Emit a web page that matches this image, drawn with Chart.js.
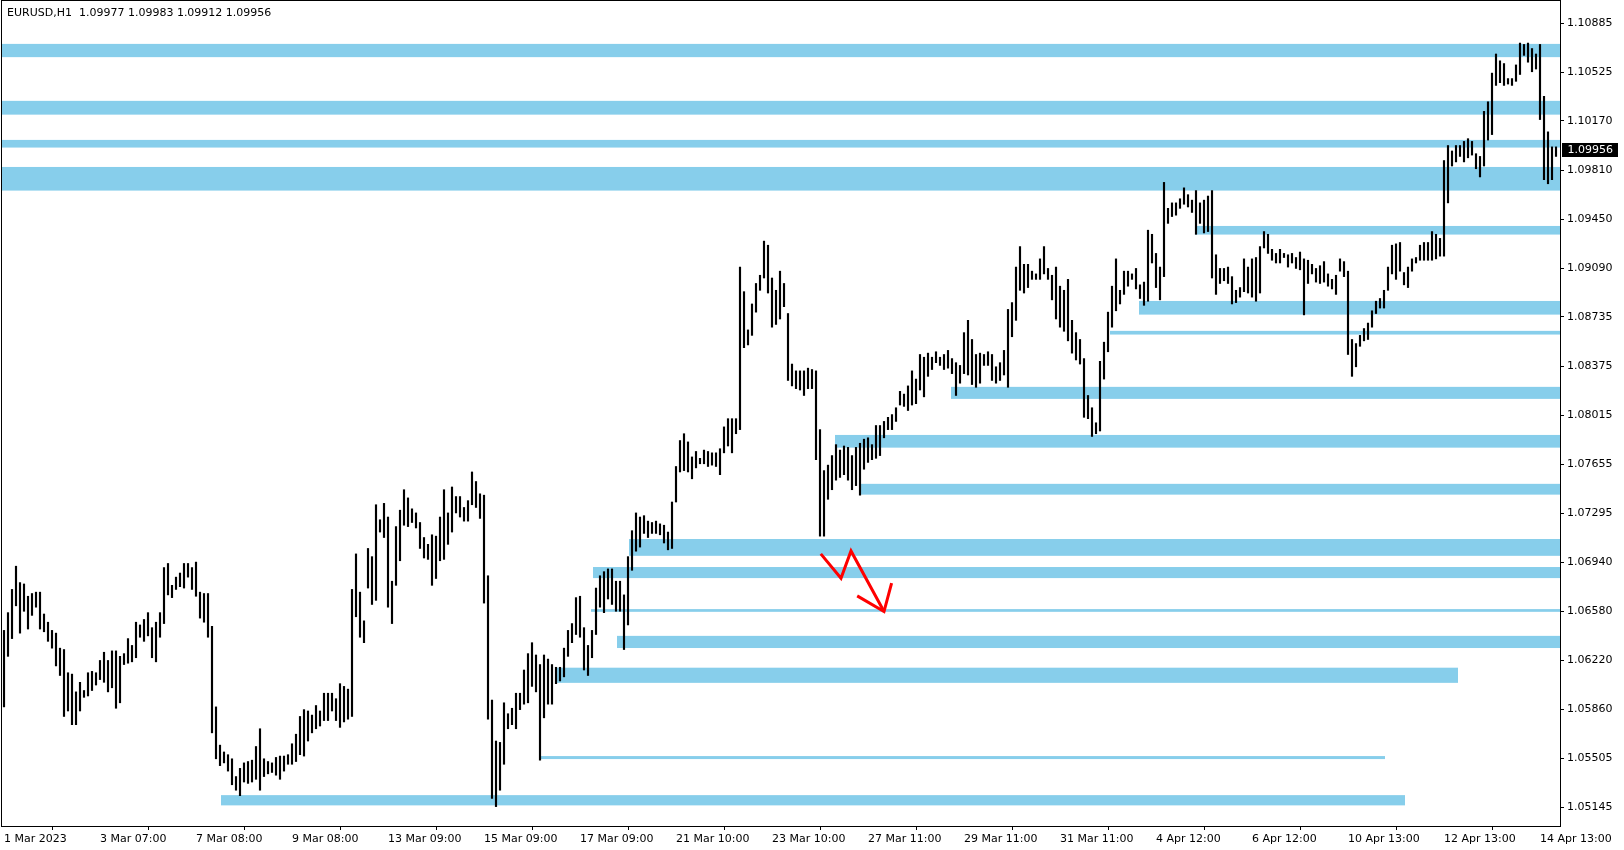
<!DOCTYPE html>
<html>
<head>
<meta charset="utf-8">
<title>EURUSD,H1</title>
<script src="https://cdn.jsdelivr.net/npm/chart.js@4.4.0/dist/chart.umd.min.js"></script>
<style>
  html, body { margin: 0; padding: 0; background: #fff; }
  canvas { display: block; }
</style>
</head>
<body>
<canvas id="chart" width="1624" height="850"></canvas>
<script>
// --- data ---
const symbol = 'EURUSD,H1';
const lastOpen = 1.09977, lastHigh = 1.09983, lastLow = 1.09912, lastClose = 1.09956;

// bar highs / lows, one entry per bar
const barHigh = [
  1.0644, 1.0657, 1.0674, 1.0691, 1.0679, 1.0678, 1.0669, 1.0671, 1.0672, 1.0672,
  1.0656, 1.0650, 1.0644, 1.0642, 1.0631, 1.0630, 1.0613, 1.0612, 1.0599, 1.0606,
  1.0600, 1.0613, 1.0614, 1.0613, 1.0622, 1.0628, 1.0622, 1.0629, 1.0629, 1.0625,
  1.0627, 1.0638, 1.0633, 1.0650, 1.0648, 1.0652, 1.0657, 1.0646, 1.0650, 1.0657,
  1.0690, 1.0693, 1.0677, 1.0683, 1.0686, 1.0693, 1.0693, 1.0690, 1.0694, 1.0672,
  1.0671, 1.0671, 1.0647, 1.0588, 1.0560, 1.0555, 1.0553, 1.0550, 1.0537, 1.0543,
  1.0547, 1.0548, 1.0549, 1.0559, 1.0572, 1.0550, 1.0548, 1.0547, 1.0551, 1.0552,
  1.0552, 1.0553, 1.0561, 1.0568, 1.0581, 1.0586, 1.0585, 1.0582, 1.0589, 1.0585,
  1.0598, 1.0598, 1.0598, 1.0594, 1.0605, 1.0603, 1.0601, 1.0674, 1.0700, 1.0672,
  1.0651, 1.0704, 1.0698, 1.0736, 1.0725, 1.0737, 1.0727, 1.0680, 1.0720, 1.0732,
  1.0747, 1.0741, 1.0733, 1.0730, 1.0723, 1.0712, 1.0707, 1.0714, 1.0713, 1.0727,
  1.0747, 1.0730, 1.0749, 1.0742, 1.0742, 1.0734, 1.0739, 1.0760, 1.0753, 1.0744,
  1.0743, 1.0684, 1.0593, 1.0563, 1.0562, 1.0591, 1.0583, 1.0587, 1.0598, 1.0598,
  1.0615, 1.0627, 1.0635, 1.0626, 1.0619, 1.0626, 1.0623, 1.0619, 1.0617, 1.0617,
  1.0631, 1.0644, 1.0649, 1.0668, 1.0669, 1.0646, 1.0633, 1.0644, 1.0675, 1.0684,
  1.0687, 1.0689, 1.0689, 1.0680, 1.0680, 1.0670, 1.0698, 1.0717, 1.0730, 1.0727,
  1.0728, 1.0724, 1.0723, 1.0724, 1.0722, 1.0721, 1.0716, 1.0738, 1.0764, 1.0783,
  1.0788, 1.0782, 1.0771, 1.0775, 1.0770, 1.0776, 1.0775, 1.0774, 1.0774, 1.0777,
  1.0793, 1.0799, 1.0799, 1.0799, 1.0910, 1.0892, 1.0864, 1.0883, 1.0898, 1.0904,
  1.0929, 1.0926, 1.0902, 1.0893, 1.0907, 1.0898, 1.0876, 1.0839, 1.0834, 1.0834,
  1.0834, 1.0836, 1.0835, 1.0834, 1.0791, 1.0761, 1.0765, 1.0772, 1.0780, 1.0776,
  1.0779, 1.0778, 1.0772, 1.0778, 1.0781, 1.0784, 1.0785, 1.0780, 1.0794, 1.0794,
  1.0797, 1.0800, 1.0802, 1.0807, 1.0819, 1.0817, 1.0823, 1.0834, 1.0828, 1.0846,
  1.0844, 1.0847, 1.0844, 1.0848, 1.0844, 1.0846, 1.0849, 1.0843, 1.0840, 1.0838,
  1.0862, 1.0871, 1.0857, 1.0846, 1.0847, 1.0846, 1.0848, 1.0846, 1.0837, 1.0840,
  1.0849, 1.0879, 1.0884, 1.0910, 1.0925, 1.0912, 1.0912, 1.0907, 1.0905, 1.0916,
  1.0925, 1.0909, 1.0904, 1.0910, 1.0896, 1.0893, 1.0901, 1.0871, 1.0862, 1.0857,
  1.0843, 1.0816, 1.0807, 1.0796, 1.0841, 1.0855, 1.0877, 1.0896, 1.0916, 1.0893,
  1.0907, 1.0907, 1.0905, 1.0909, 1.0897, 1.0899, 1.0937, 1.0934, 1.0920, 1.0910,
  1.0972, 1.0953, 1.0957, 1.0957, 1.0960, 1.0968, 1.0963, 1.0959, 1.0966, 1.0957,
  1.0959, 1.0962, 1.0966, 1.0919, 1.0909, 1.0909, 1.0910, 1.0903, 1.0893, 1.0895,
  1.0916, 1.0910, 1.0916, 1.0917, 1.0925, 1.0936, 1.0934, 1.0923, 1.0920, 1.0923,
  1.0920, 1.0919, 1.0920, 1.0917, 1.0921, 1.0916, 1.0915, 1.0912, 1.0909, 1.0911,
  1.0914, 1.0905, 1.0901, 1.0904, 1.0916, 1.0914, 1.0907, 1.0857, 1.0854, 1.0860,
  1.0865, 1.0869, 1.0878, 1.0885, 1.0887, 1.0893, 1.0910, 1.0926, 1.0927, 1.0928,
  1.0906, 1.0910, 1.0916, 1.0917, 1.0926, 1.0928, 1.0928, 1.0936, 1.0934, 1.0931,
  1.0988, 1.0999, 1.0995, 1.0999, 1.0999, 1.1002, 1.1004, 1.1002, 1.0993, 1.0991,
  1.1024, 1.1031, 1.1052, 1.1066, 1.1061, 1.1059, 1.1048, 1.1048, 1.1058, 1.1074,
  1.1073, 1.1074, 1.1070, 1.1066, 1.1073, 1.1035, 1.1009, 1.0998, 1.0998
];
const barLow = [
  1.0588, 1.0625, 1.0638, 1.0662, 1.0642, 1.0658, 1.0645, 1.0655, 1.0661, 1.0645,
  1.0643, 1.0636, 1.0631, 1.0618, 1.0611, 1.0581, 1.0585, 1.0575, 1.0575, 1.0585,
  1.0595, 1.0596, 1.0600, 1.0604, 1.0608, 1.0606, 1.0599, 1.0602, 1.0587, 1.0591,
  1.0619, 1.0620, 1.0621, 1.0624, 1.0639, 1.0636, 1.0640, 1.0624, 1.0621, 1.0639,
  1.0649, 1.0670, 1.0668, 1.0674, 1.0676, 1.0675, 1.0683, 1.0674, 1.0669, 1.0653,
  1.0650, 1.0639, 1.0569, 1.0550, 1.0545, 1.0547, 1.0541, 1.0531, 1.0527, 1.0523,
  1.0533, 1.0532, 1.0533, 1.0535, 1.0527, 1.0537, 1.0539, 1.0540, 1.0538, 1.0535,
  1.0541, 1.0546, 1.0546, 1.0548, 1.0553, 1.0552, 1.0563, 1.0569, 1.0572, 1.0574,
  1.0578, 1.0578, 1.0585, 1.0578, 1.0573, 1.0577, 1.0579, 1.0581, 1.0654, 1.0639,
  1.0635, 1.0675, 1.0663, 1.0666, 1.0716, 1.0712, 1.0661, 1.0649, 1.0677, 1.0695,
  1.0721, 1.0720, 1.0723, 1.0719, 1.0704, 1.0697, 1.0696, 1.0677, 1.0682, 1.0695,
  1.0696, 1.0707, 1.0716, 1.0730, 1.0727, 1.0724, 1.0724, 1.0736, 1.0734, 1.0726,
  1.0664, 1.0579, 1.0521, 1.0515, 1.0527, 1.0546, 1.0572, 1.0575, 1.0572, 1.0586,
  1.0590, 1.0591, 1.0603, 1.0599, 1.0549, 1.0580, 1.0590, 1.0590, 1.0605, 1.0607,
  1.0610, 1.0625, 1.0635, 1.0641, 1.0639, 1.0615, 1.0611, 1.0624, 1.0641, 1.0661,
  1.0657, 1.0667, 1.0663, 1.0658, 1.0658, 1.0630, 1.0648, 1.0688, 1.0702, 1.0705,
  1.0715, 1.0712, 1.0715, 1.0715, 1.0714, 1.0708, 1.0703, 1.0704, 1.0738, 1.0760,
  1.0761, 1.0760, 1.0755, 1.0763, 1.0766, 1.0766, 1.0764, 1.0765, 1.0764, 1.0758,
  1.0774, 1.0779, 1.0774, 1.0788, 1.0791, 1.0851, 1.0853, 1.0860, 1.0877, 1.0893,
  1.0902, 1.0891, 1.0866, 1.0868, 1.0872, 1.0881, 1.0827, 1.0823, 1.0821, 1.0820,
  1.0816, 1.0821, 1.0821, 1.0769, 1.0713, 1.0713, 1.0740, 1.0747, 1.0754, 1.0756,
  1.0758, 1.0754, 1.0747, 1.0750, 1.0743, 1.0762, 1.0767, 1.0769, 1.0770, 1.0772,
  1.0785, 1.0791, 1.0791, 1.0797, 1.0809, 1.0808, 1.0805, 1.0809, 1.0810, 1.0820,
  1.0815, 1.0830, 1.0835, 1.0840, 1.0838, 1.0835, 1.0836, 1.0832, 1.0816, 1.0825,
  1.0832, 1.0831, 1.0824, 1.0822, 1.0825, 1.0838, 1.0838, 1.0827, 1.0825, 1.0827,
  1.0831, 1.0822, 1.0859, 1.0871, 1.0893, 1.0891, 1.0895, 1.0901, 1.0901, 1.0901,
  1.0905, 1.0901, 1.0886, 1.0872, 1.0866, 1.0863, 1.0856, 1.0847, 1.0842, 1.0839,
  1.0800, 1.0799, 1.0786, 1.0788, 1.0790, 1.0828, 1.0848, 1.0866, 1.0878, 1.0883,
  1.0890, 1.0896, 1.0901, 1.0894, 1.0887, 1.0882, 1.0885, 1.0913, 1.0895, 1.0886,
  1.0903, 1.0942, 1.0947, 1.0948, 1.0953, 1.0956, 1.0954, 1.0950, 1.0934, 1.0942,
  1.0935, 1.0936, 1.0902, 1.0890, 1.0898, 1.0900, 1.0898, 1.0883, 1.0884, 1.0888,
  1.0892, 1.0891, 1.0888, 1.0885, 1.0891, 1.0924, 1.0920, 1.0915, 1.0913, 1.0913,
  1.0917, 1.0910, 1.0913, 1.0909, 1.0908, 1.0875, 1.0898, 1.0905, 1.0899, 1.0898,
  1.0899, 1.0896, 1.0894, 1.0890, 1.0907, 1.0903, 1.0846, 1.0830, 1.0837, 1.0852,
  1.0856, 1.0857, 1.0866, 1.0876, 1.0880, 1.0880, 1.0893, 1.0905, 1.0901, 1.0907,
  1.0897, 1.0895, 1.0907, 1.0913, 1.0915, 1.0915, 1.0915, 1.0915, 1.0916, 1.0918,
  1.0918, 1.0957, 1.0984, 1.0987, 1.0991, 1.0987, 1.0990, 1.0992, 1.0982, 1.0976,
  1.0984, 1.1003, 1.1007, 1.1043, 1.1045, 1.1043, 1.1044, 1.1043, 1.1046, 1.1051,
  1.1065, 1.1060, 1.1053, 1.1055, 1.1018, 1.0974, 1.0971, 1.0974, 1.0991
];

// time axis: one label every 24 bars
const labelStep = 24;
const timeLabels = ['1 Mar 2023', '3 Mar 07:00', '7 Mar 08:00', '9 Mar 08:00', '13 Mar 09:00',
  '15 Mar 09:00', '17 Mar 09:00', '21 Mar 10:00', '23 Mar 10:00', '27 Mar 11:00', '29 Mar 11:00',
  '31 Mar 11:00', '4 Apr 12:00', '6 Apr 12:00', '10 Apr 13:00', '12 Apr 13:00', '14 Apr 13:00'];

// price axis
const priceTicks = [1.10885, 1.10525, 1.10170, 1.09810, 1.09450, 1.09090, 1.08735, 1.08375,
  1.08015, 1.07655, 1.07295, 1.06940, 1.06580, 1.06220, 1.05860, 1.05505, 1.05145];
const priceMin = 1.05008, priceMax = 1.11048;

// rectangles (zones): top / bottom price, first / last bar (null = chart edge)
const bandTop    = [1.10734, 1.10317, 1.10031, 1.09833, 1.09401, 1.08852, 1.08633, 1.08223, 1.07871,
  1.07513, 1.07109, 1.06904, 1.06596, 1.06400, 1.06167, 1.05520, 1.05234];
const bandBottom = [1.10637, 1.10216, 1.09975, 1.09660, 1.09338, 1.08752, 1.08606, 1.08135, 1.07778,
  1.07434, 1.06986, 1.06823, 1.06576, 1.06311, 1.06056, 1.05498, 1.05159];
const bandStart  = [null, null, null, null, 297.75, 283.75, 276.5, 236.75, 207.75,
  214, 156.25, 147.25, 146.75, 153.25, 137.9, 133.75, 54.25];
const bandEnd    = [null, null, null, null, null, null, null, null, null,
  null, null, null, null, null, 363.5, 345.25, 350.25];

// red arrow drawn on the chart
const arrowX = [204.2, 209.25, 211.75, 220];
const arrowY = [1.0700, 1.06822, 1.07022, 1.06578];
const headX = [213.3, 220, 221.9];
const headY = [1.06693, 1.06578, 1.06786];

const bandColor = '#87CEEB';
const fontFamily = '"DejaVu Sans", "Liberation Sans", sans-serif';

Chart.defaults.font.family = fontFamily;
Chart.defaults.font.size = 11;
Chart.defaults.color = '#000';

// zones behind the bars, frame + header + price label on top
const mtPlugin = {
  id: 'mt4',
  beforeDatasetsDraw(chart) {
    const { ctx, chartArea: a, scales: { x, y } } = chart;
    ctx.save();
    ctx.beginPath();
    ctx.rect(a.left, a.top, a.right - a.left, a.bottom - a.top);
    ctx.clip();
    ctx.fillStyle = bandColor;
    for (let k = 0; k < bandTop.length; k++) {
      const x0 = bandStart[k] === null ? a.left : x.getPixelForValue(bandStart[k]);
      const x1 = bandEnd[k] === null ? a.right : x.getPixelForValue(bandEnd[k]);
      const y0 = y.getPixelForValue(bandTop[k]);
      const y1 = y.getPixelForValue(bandBottom[k]);
      ctx.fillRect(x0, y0, x1 - x0, y1 - y0);
    }
    ctx.restore();
  },
  afterDraw(chart) {
    const { ctx, chartArea: a, scales: { y } } = chart;
    ctx.save();
    // frame
    ctx.strokeStyle = '#000';
    ctx.lineWidth = 1;
    ctx.strokeRect(a.left - 0.5, a.top - 0.5, a.right - a.left + 1, a.bottom - a.top + 1);

    // header
    ctx.font = '11px ' + fontFamily;
    ctx.fillStyle = '#000';
    ctx.textBaseline = 'middle';
    ctx.textAlign = 'left';
    const head = symbol + '  ' + [lastOpen, lastHigh, lastLow, lastClose].map(v => v.toFixed(5)).join(' ');
    ctx.fillText(head, 7, 13);

    // current price box
    const py = Math.round(y.getPixelForValue(lastClose));
    ctx.fillStyle = '#000';
    ctx.fillRect(a.right + 2, py - 7, 56, 14);
    ctx.fillStyle = '#fff';
    ctx.fillText(lastClose.toFixed(5), a.right + 7.5, py + 0.5);
    ctx.restore();
  }
};

const barData = barHigh.map((h, k) => ({ x: k, y: [barLow[k], h] }));

// no extra padding from the axes: the plot should fill the canvas like MT4
const noPad = s => { s.paddingTop = 0; s.paddingBottom = 0; s.paddingLeft = 0; s.paddingRight = 0; };

new Chart(document.getElementById('chart'), {
  type: 'bar',
  data: {
    datasets: [
      {
        type: 'line',
        data: arrowX.map((v, k) => ({ x: v, y: arrowY[k] })),
        borderColor: '#FF0000',
        borderWidth: 3,
        pointRadius: 0,
        tension: 0,
        fill: false,
        order: 0
      },
      {
        type: 'line',
        data: headX.map((v, k) => ({ x: v, y: headY[k] })),
        borderColor: '#FF0000',
        borderWidth: 3,
        pointRadius: 0,
        tension: 0,
        fill: false,
        order: 0
      },
      {
        type: 'bar',
        data: barData,
        backgroundColor: '#000',
        borderWidth: 0,
        barThickness: 1.5,
        order: 1
      }
    ]
  },
  options: {
    responsive: false,
    animation: false,
    devicePixelRatio: 1,
    events: [],
    layout: { padding: { left: 2, top: 1, right: 0, bottom: 0 } },
    plugins: { legend: { display: false }, tooltip: { enabled: false } },
    scales: {
      x: {
        type: 'linear',
        position: 'bottom',
        min: -0.5,
        max: 389,
        offset: false,
        afterFit: s => { s.height = 24; noPad(s); },
        afterBuildTicks: s => { s.ticks = timeLabels.map((_, k) => ({ value: k * labelStep })); },
        ticks: {
          autoSkip: false,
          maxRotation: 0,
          minRotation: 0,
          align: 'start',
          padding: 3,
          callback: (v, i) => timeLabels[i]
        },
        grid: { drawOnChartArea: false, tickLength: 4, color: '#000' },
        border: { display: false }
      },
      y: {
        type: 'linear',
        position: 'right',
        min: priceMin,
        max: priceMax,
        afterFit: s => { s.width = 64; noPad(s); },
        afterBuildTicks: s => { s.ticks = priceTicks.map(v => ({ value: v })); },
        ticks: {
          padding: 3,
          callback: v => v.toFixed(5)
        },
        grid: { drawOnChartArea: false, tickLength: 4, color: '#000' },
        border: { display: false }
      }
    }
  },
  plugins: [mtPlugin]
});
</script>
</body>
</html>
